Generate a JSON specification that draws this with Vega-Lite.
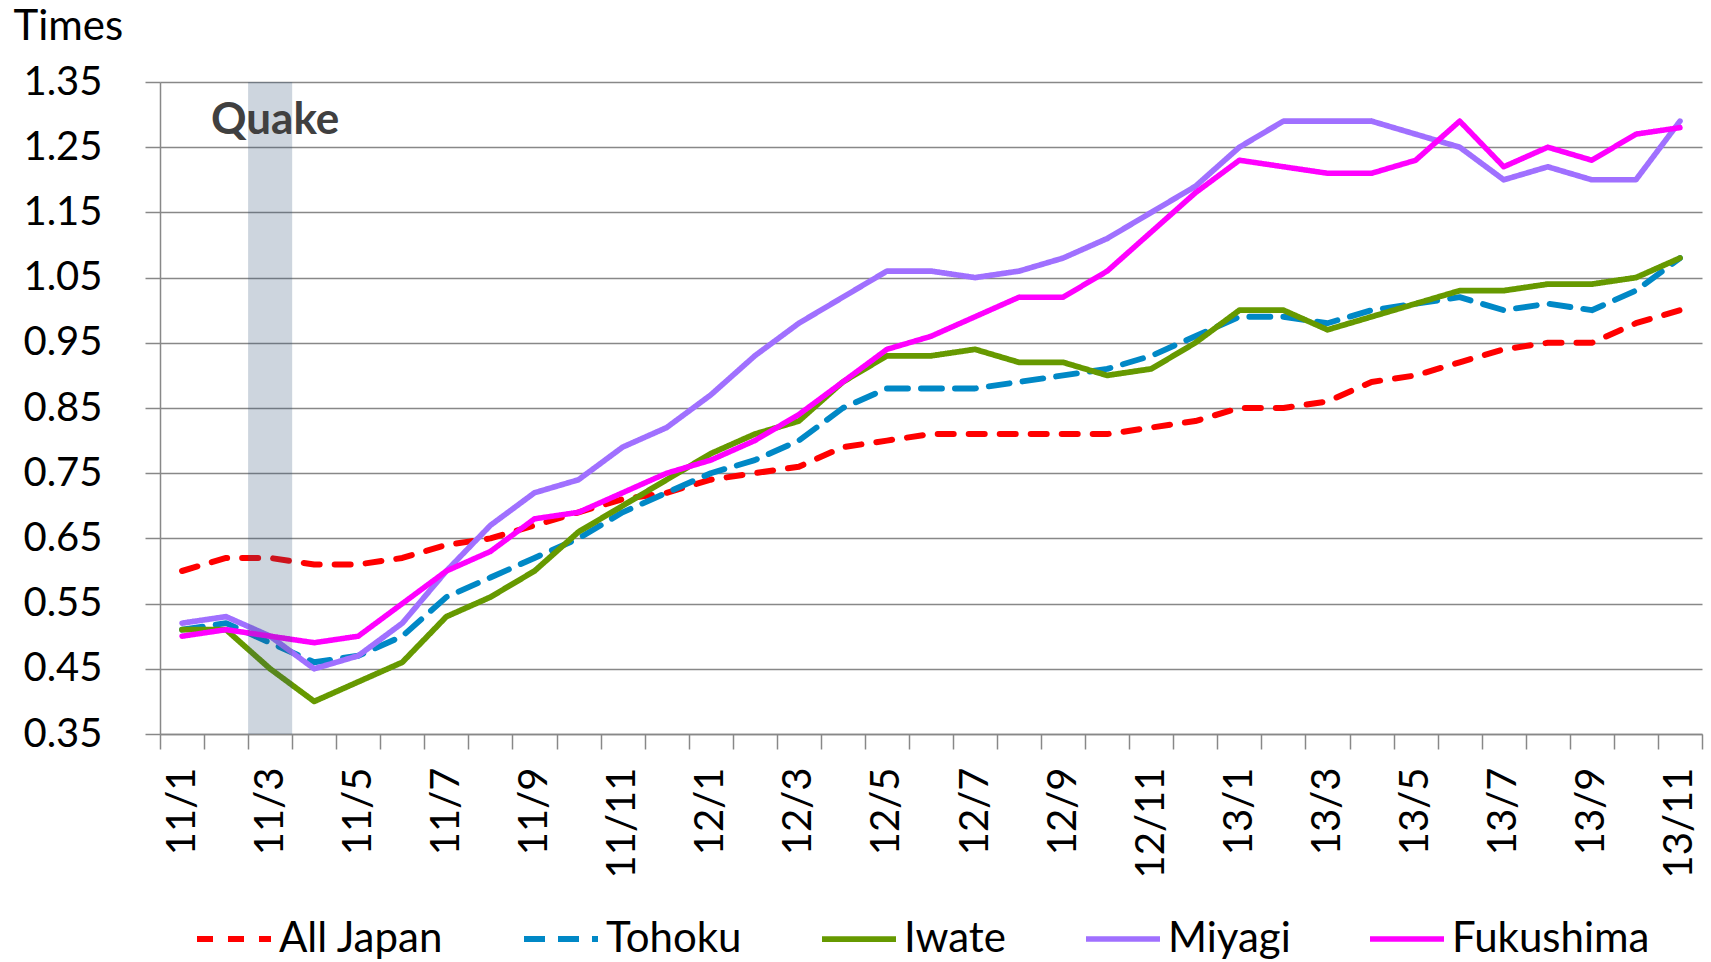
{
  "$schema": "https://vega.github.io/schema/vega-lite/v6.json",
  "width": 1542,
  "height": 652,
  "autosize": {"type": "none"},
  "padding": {"left": 160, "top": 82, "right": 9, "bottom": 228},
  "background": "white",
  "config": {
    "view": {"stroke": null},
    "font": "Lato",
    "axis": {"labelFont": "Lato", "titleFont": "Lato", "labelColor": "#000000", "titleColor": "#000000"}
  },
  "datasets": {
    "jobs": [
      {"month": "11/1", "All Japan": 0.60, "Tohoku": 0.51, "Iwate": 0.51, "Miyagi": 0.52, "Fukushima": 0.50},
      {"month": "11/2", "All Japan": 0.62, "Tohoku": 0.52, "Iwate": 0.51, "Miyagi": 0.53, "Fukushima": 0.51},
      {"month": "11/3", "All Japan": 0.62, "Tohoku": 0.49, "Iwate": 0.45, "Miyagi": 0.50, "Fukushima": 0.50},
      {"month": "11/4", "All Japan": 0.61, "Tohoku": 0.46, "Iwate": 0.40, "Miyagi": 0.45, "Fukushima": 0.49},
      {"month": "11/5", "All Japan": 0.61, "Tohoku": 0.47, "Iwate": 0.43, "Miyagi": 0.47, "Fukushima": 0.50},
      {"month": "11/6", "All Japan": 0.62, "Tohoku": 0.50, "Iwate": 0.46, "Miyagi": 0.52, "Fukushima": 0.55},
      {"month": "11/7", "All Japan": 0.64, "Tohoku": 0.56, "Iwate": 0.53, "Miyagi": 0.60, "Fukushima": 0.60},
      {"month": "11/8", "All Japan": 0.65, "Tohoku": 0.59, "Iwate": 0.56, "Miyagi": 0.67, "Fukushima": 0.63},
      {"month": "11/9", "All Japan": 0.67, "Tohoku": 0.62, "Iwate": 0.60, "Miyagi": 0.72, "Fukushima": 0.68},
      {"month": "11/10", "All Japan": 0.69, "Tohoku": 0.65, "Iwate": 0.66, "Miyagi": 0.74, "Fukushima": 0.69},
      {"month": "11/11", "All Japan": 0.71, "Tohoku": 0.69, "Iwate": 0.70, "Miyagi": 0.79, "Fukushima": 0.72},
      {"month": "11/12", "All Japan": 0.72, "Tohoku": 0.72, "Iwate": 0.74, "Miyagi": 0.82, "Fukushima": 0.75},
      {"month": "12/1", "All Japan": 0.74, "Tohoku": 0.75, "Iwate": 0.78, "Miyagi": 0.87, "Fukushima": 0.77},
      {"month": "12/2", "All Japan": 0.75, "Tohoku": 0.77, "Iwate": 0.81, "Miyagi": 0.93, "Fukushima": 0.80},
      {"month": "12/3", "All Japan": 0.76, "Tohoku": 0.80, "Iwate": 0.83, "Miyagi": 0.98, "Fukushima": 0.84},
      {"month": "12/4", "All Japan": 0.79, "Tohoku": 0.85, "Iwate": 0.89, "Miyagi": 1.02, "Fukushima": 0.89},
      {"month": "12/5", "All Japan": 0.80, "Tohoku": 0.88, "Iwate": 0.93, "Miyagi": 1.06, "Fukushima": 0.94},
      {"month": "12/6", "All Japan": 0.81, "Tohoku": 0.88, "Iwate": 0.93, "Miyagi": 1.06, "Fukushima": 0.96},
      {"month": "12/7", "All Japan": 0.81, "Tohoku": 0.88, "Iwate": 0.94, "Miyagi": 1.05, "Fukushima": 0.99},
      {"month": "12/8", "All Japan": 0.81, "Tohoku": 0.89, "Iwate": 0.92, "Miyagi": 1.06, "Fukushima": 1.02},
      {"month": "12/9", "All Japan": 0.81, "Tohoku": 0.90, "Iwate": 0.92, "Miyagi": 1.08, "Fukushima": 1.02},
      {"month": "12/10", "All Japan": 0.81, "Tohoku": 0.91, "Iwate": 0.90, "Miyagi": 1.11, "Fukushima": 1.06},
      {"month": "12/11", "All Japan": 0.82, "Tohoku": 0.93, "Iwate": 0.91, "Miyagi": 1.15, "Fukushima": 1.12},
      {"month": "12/12", "All Japan": 0.83, "Tohoku": 0.96, "Iwate": 0.95, "Miyagi": 1.19, "Fukushima": 1.18},
      {"month": "13/1", "All Japan": 0.85, "Tohoku": 0.99, "Iwate": 1.00, "Miyagi": 1.25, "Fukushima": 1.23},
      {"month": "13/2", "All Japan": 0.85, "Tohoku": 0.99, "Iwate": 1.00, "Miyagi": 1.29, "Fukushima": 1.22},
      {"month": "13/3", "All Japan": 0.86, "Tohoku": 0.98, "Iwate": 0.97, "Miyagi": 1.29, "Fukushima": 1.21},
      {"month": "13/4", "All Japan": 0.89, "Tohoku": 1.00, "Iwate": 0.99, "Miyagi": 1.29, "Fukushima": 1.21},
      {"month": "13/5", "All Japan": 0.90, "Tohoku": 1.01, "Iwate": 1.01, "Miyagi": 1.27, "Fukushima": 1.23},
      {"month": "13/6", "All Japan": 0.92, "Tohoku": 1.02, "Iwate": 1.03, "Miyagi": 1.25, "Fukushima": 1.29},
      {"month": "13/7", "All Japan": 0.94, "Tohoku": 1.00, "Iwate": 1.03, "Miyagi": 1.20, "Fukushima": 1.22},
      {"month": "13/8", "All Japan": 0.95, "Tohoku": 1.01, "Iwate": 1.04, "Miyagi": 1.22, "Fukushima": 1.25},
      {"month": "13/9", "All Japan": 0.95, "Tohoku": 1.00, "Iwate": 1.04, "Miyagi": 1.20, "Fukushima": 1.23},
      {"month": "13/10", "All Japan": 0.98, "Tohoku": 1.03, "Iwate": 1.05, "Miyagi": 1.20, "Fukushima": 1.27},
      {"month": "13/11", "All Japan": 1.00, "Tohoku": 1.08, "Iwate": 1.08, "Miyagi": 1.29, "Fukushima": 1.28}
    ],
    "quake": [
      {"month": "11/3", "low": 0.35, "high": 1.35, "label": "Quake", "labelValue": 1.29}
    ]
  },
  "layer": [
    {
      "data": {"name": "jobs"},
      "transform": [
        {"fold": ["All Japan", "Tohoku", "Iwate", "Miyagi", "Fukushima"], "as": ["series", "value"]}
      ],
      "mark": {"type": "line", "strokeCap": "round", "strokeJoin": "round"},
      "encoding": {
        "x": {
          "field": "month",
          "type": "ordinal",
          "bandPosition": 0.5,
          "scale": {
            "type": "band",
            "paddingInner": 0,
            "paddingOuter": 0,
            "domain": ["11/1","11/2","11/3","11/4","11/5","11/6","11/7","11/8","11/9","11/10","11/11","11/12","12/1","12/2","12/3","12/4","12/5","12/6","12/7","12/8","12/9","12/10","12/11","12/12","13/1","13/2","13/3","13/4","13/5","13/6","13/7","13/8","13/9","13/10","13/11"]
          },
          "axis": {
            "title": null,
            "grid": false,
            "domainColor": "#888888",
            "domainWidth": 1.5,
            "tickColor": "#888888",
            "tickWidth": 1.5,
            "tickSize": 15,
            "tickBand": "extent",
            "labelAngle": 270,
            "labelAlign": "right",
            "labelBaseline": "middle",
            "labelPadding": 18,
            "labelFontSize": 40,
            "labelOverlap": false,
            "labelExpr": "toNumber(split(datum.value, '/')[1]) % 2 == 1 ? datum.value : ''"
          }
        },
        "y": {
          "field": "value",
          "type": "quantitative",
          "scale": {"domain": [0.35, 1.35], "nice": false, "zero": false},
          "axis": {
            "values": [0.35, 0.45, 0.55, 0.65, 0.75, 0.85, 0.95, 1.05, 1.15, 1.25, 1.35],
            "format": ".2f",
            "grid": true,
            "gridColor": "#888888",
            "gridWidth": 1.5,
            "domainColor": "#888888",
            "domainWidth": 1.5,
            "tickColor": "#888888",
            "tickWidth": 1.5,
            "tickSize": 15,
            "labelPadding": 43,
            "labelFontSize": 40,
            "title": "Times",
            "titleAngle": 0,
            "titleAlign": "left",
            "titleBaseline": "middle",
            "titleX": -147,
            "titleY": -56,
            "titleFontSize": 42,
            "titleFontWeight": "normal"
          }
        },
        "color": {
          "field": "series",
          "type": "nominal",
          "scale": {
            "domain": ["All Japan", "Tohoku", "Iwate", "Miyagi", "Fukushima"],
            "range": ["#FF0000", "#0088C6", "#669900", "#A070FF", "#FF00FF"]
          },
          "legend": {
            "title": null,
            "orient": "none",
            "legendX": 34,
            "legendY": 817,
            "direction": "horizontal",
            "columns": 5,
            "gridAlign": "none",
            "columnPadding": 68,
            "symbolType": "stroke",
            "symbolSize": 5476,
            "symbolStrokeWidth": 5.5,
            "labelFontSize": 42,
            "labelFont": "Lato",
            "labelColor": "#000000",
            "labelOffset": 5,
            "labelLimit": 400
          }
        },
        "strokeDash": {
          "field": "series",
          "type": "nominal",
          "scale": {
            "domain": ["All Japan", "Tohoku", "Iwate", "Miyagi", "Fukushima"],
            "range": [[16, 15], [21, 13], [1, 0], [1, 0], [1, 0]]
          }
        },
        "strokeWidth": {
          "field": "series",
          "type": "nominal",
          "scale": {
            "domain": ["All Japan", "Tohoku", "Iwate", "Miyagi", "Fukushima"],
            "range": [6, 5.5, 4.5, 4.5, 4.5]
          },
          "legend": null
        }
      }
    },
    {
      "data": {"name": "quake"},
      "mark": {"type": "bar", "color": "#2E5077", "opacity": 0.24},
      "encoding": {
        "x": {"field": "month", "type": "ordinal"},
        "y": {"field": "low", "type": "quantitative"},
        "y2": {"field": "high"}
      }
    },
    {
      "data": {"name": "quake"},
      "mark": {"type": "text", "font": "Lato", "fontSize": 44, "fontWeight": "bold", "color": "#404040", "align": "center", "baseline": "middle", "dx": 5},
      "encoding": {
        "x": {"field": "month", "type": "ordinal", "bandPosition": 0.5},
        "y": {"field": "labelValue", "type": "quantitative"},
        "text": {"field": "label"}
      }
    }
  ]
}
